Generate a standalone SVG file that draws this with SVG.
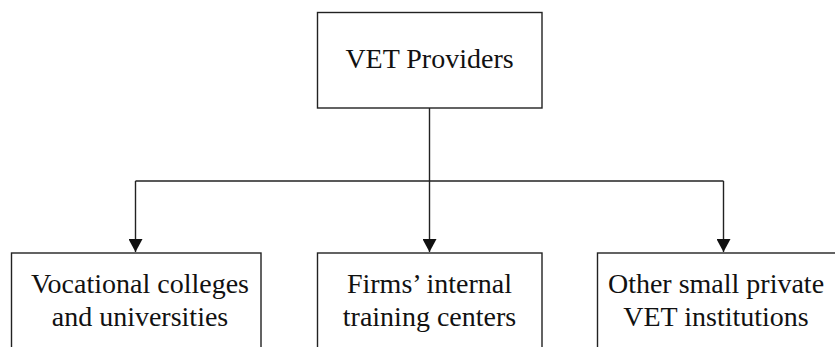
<svg xmlns="http://www.w3.org/2000/svg" width="835" height="347" viewBox="0 0 835 347">
<style>
.box{fill:#fff;stroke:#222;stroke-width:1.4}
.lbl{font-family:"Liberation Serif","Times New Roman",serif;font-size:28px;fill:#111;text-anchor:middle}
.ln{fill:none;stroke:#222;stroke-width:1.4}
</style>
<defs>
<marker id="ah" viewBox="0 0 14 14" refX="13" refY="7" markerWidth="14" markerHeight="14" markerUnits="userSpaceOnUse" orient="auto">
<path d="M0,0 L13,7 L0,14 Z" fill="#111"/>
</marker>
</defs>
<rect width="835" height="347" fill="#fff"/>
<g id="connectors">
<line class="ln" x1="429.5" y1="108" x2="429.5" y2="181"/>
<line class="ln" x1="135.5" y1="181" x2="723.5" y2="181"/>
<line class="ln" x1="135.5" y1="181" x2="135.5" y2="252" marker-end="url(#ah)"/>
<line class="ln" x1="429.5" y1="181" x2="429.5" y2="252" marker-end="url(#ah)"/>
<line class="ln" x1="723.5" y1="181" x2="723.5" y2="252" marker-end="url(#ah)"/>
</g>
<g id="vet-providers">
<rect class="box" x="317.5" y="12.5" width="224.5" height="95.5"/>
<text class="lbl" x="429.5" y="68">VET Providers</text>
</g>
<g id="vocational">
<rect class="box" x="11.5" y="253" width="249.5" height="110"/>
<text class="lbl" x="140" y="293">Vocational colleges</text>
<text class="lbl" x="140" y="326">and universities</text>
</g>
<g id="firms">
<rect class="box" x="317.5" y="253" width="224.5" height="110"/>
<text class="lbl" x="429.5" y="293">Firms’ internal</text>
<text class="lbl" x="429.5" y="326">training centers</text>
</g>
<g id="other">
<rect class="box" x="597.5" y="253" width="260" height="110"/>
<text class="lbl" x="716" y="293">Other small private</text>
<text class="lbl" x="716" y="326">VET institutions</text>
</g>
</svg>
